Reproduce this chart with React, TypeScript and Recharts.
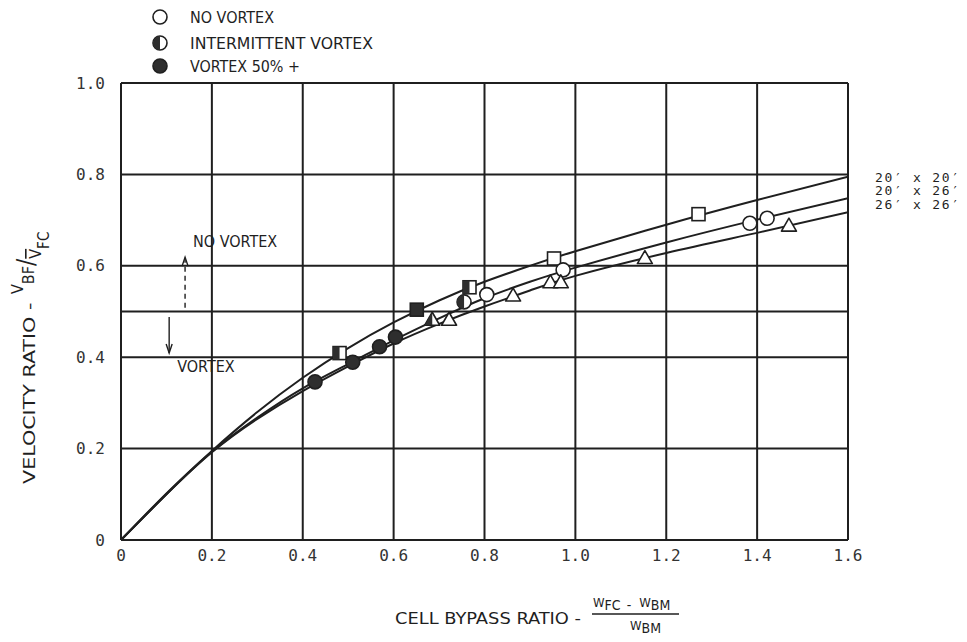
import React from "react";
import {
  CartesianGrid,
  ComposedChart,
  LabelList,
  Legend,
  Line,
  ReferenceLine,
  Scatter,
  XAxis,
  YAxis,
} from "recharts";

const FONT = "'DejaVu Sans Condensed', 'Liberation Sans Narrow', 'DejaVu Sans', sans-serif";
const MONO = "'DejaVu Sans Mono', 'Liberation Mono', monospace";
const INK = "#1f1f1f";
const DARK = "#2e2e2e";

const X_TICKS = [0, 0.2, 0.4, 0.6, 0.8, 1.0, 1.2, 1.4, 1.6];
const Y_TICKS = [0, 0.2, 0.4, 0.6, 0.8, 1.0];

// fitted curves, one per cell size
const CURVE_X = [0, 0.1, 0.2, 0.3, 0.4, 0.5, 0.6, 0.7, 0.8, 0.9, 1.0, 1.2, 1.4, 1.6];
const CURVE_20x20 = [0, 0.102, 0.195, 0.28, 0.355, 0.42, 0.476, 0.524, 0.565, 0.6, 0.632, 0.69, 0.744, 0.795];
const CURVE_20x26 = [0, 0.1, 0.193, 0.268, 0.332, 0.385, 0.437, 0.485, 0.529, 0.565, 0.596, 0.651, 0.701, 0.748];
const CURVE_26x26 = [0, 0.1, 0.192, 0.265, 0.326, 0.38, 0.43, 0.473, 0.511, 0.546, 0.578, 0.628, 0.672, 0.717];

// test points: square = 20'x20', circle = 20'x26', triangle = 26'x26'
const SQ_X = [0.481, 0.651, 0.767, 0.953, 1.271];
const SQ_Y = [0.409, 0.504, 0.553, 0.616, 0.713];
const SQ_STATE = ["half", "full", "half", "open", "open"];

const CI_X = [0.427, 0.51, 0.569, 0.604, 0.755, 0.805, 0.973, 1.384, 1.422];
const CI_Y = [0.346, 0.389, 0.423, 0.444, 0.521, 0.537, 0.591, 0.693, 0.704];
const CI_STATE = ["full", "full", "full", "full", "half", "open", "open", "open", "open"];

const TR_X = [0.685, 0.722, 0.863, 0.945, 0.968, 1.153, 1.47];
const TR_Y = [0.483, 0.483, 0.536, 0.565, 0.565, 0.618, 0.689];
const TR_STATE = ["half", "open", "open", "open", "open", "open", "open"];

const CURVE_LABELS = ["20′ x 20′", "20′ x 26′", "26′ x 26′"];
const LEGEND_LABELS = ["NO VORTEX", "INTERMITTENT VORTEX", "VORTEX 50% +"];
const LEGEND_STATES = ["open", "half", "full"];

// vortex boundary and its annotation arrows
const BOUNDARY_Y = 0.5;
const NO_VORTEX_ARROW = [{ x: 0.141, y: 0.508 }, { x: 0.141, y: 0.619 }];
const VORTEX_ARROW = [{ x: 0.106, y: 0.488 }, { x: 0.106, y: 0.409 }];

const curve = (ys: number[]) => CURVE_X.map((x, i) => ({ x, y: ys[i] }));
const points = (xs: number[], ys: number[], st: string[]) =>
  xs.map((x, i) => ({ x, y: ys[i], state: st[i] }));

const fmt = (v: number) => (v === 0 ? "0" : v.toFixed(1));

function Marker({ kind, state, cx, cy }: { kind: string; state: string; cx: number; cy: number }) {
  const body = state === "full" ? DARK : "#fff";
  const sw = 1.6;
  if (kind === "circle") {
    const r = 7;
    return (
      <g>
        <circle cx={cx} cy={cy} r={r} fill={body} stroke={INK} strokeWidth={sw} />
        {state === "half" && <path d={`M${cx},${cy - r} A${r},${r} 0 0 0 ${cx},${cy + r} Z`} fill={DARK} />}
      </g>
    );
  }
  if (kind === "square") {
    const h = 6.5;
    return (
      <g>
        <rect x={cx - h} y={cy - h} width={2 * h} height={2 * h} fill={body} stroke={INK} strokeWidth={sw} />
        {state === "half" && <rect x={cx - h} y={cy - h} width={h} height={2 * h} fill={DARK} />}
      </g>
    );
  }
  const w = 7.5;
  const t = cy - 7;
  const b = cy + 6;
  return (
    <g>
      <polygon points={`${cx},${t} ${cx - w},${b} ${cx + w},${b}`} fill={body} stroke={INK} strokeWidth={sw} strokeLinejoin="round" />
      {state === "half" && <polygon points={`${cx},${t} ${cx - w},${b} ${cx},${b}`} fill={DARK} />}
    </g>
  );
}

const endLabel = (text: string, dy: number) => (p: any) => {
  if (p.index !== undefined ? p.index !== CURVE_X.length - 1 : p.x < 840) return null;
  return (
    <text
      key={text}
      x={p.x + 27}
      y={p.y + dy}
      fontFamily={MONO}
      fontSize={13}
      fill={INK}
      textLength={84}
      lengthAdjust="spacing"
    >
      {text}
    </text>
  );
};

const arrowShape = (text: string, tx: number, ty: number, dashed: boolean) => (p: any) => {
  const { x1, y1, x2, y2 } = p;
  const dir = y2 < y1 ? -1 : 1;
  return (
    <g>
      <line x1={x1} y1={y1} x2={x2} y2={y2} stroke={INK} strokeWidth={1.4} strokeDasharray={dashed ? "5 4" : undefined} />
      <path d={`M${x2 - 3},${y2 - dir * 9} L${x2},${y2} L${x2 + 3},${y2 - dir * 9}`} fill="none" stroke={INK} strokeWidth={1.4} />
      <text x={x1 + tx} y={y1 + ty} fontFamily={FONT} fontSize={16} fill={INK}>
        {text}
      </text>
    </g>
  );
};

function XTitle() {
  return (
    <g fontFamily={FONT} fill={INK}>
      <text x={395} y={624} fontSize={16} textLength={186} lengthAdjust="spacingAndGlyphs">
        CELL BYPASS RATIO -
      </text>
      <text x={593} y={610} fontSize={14}>
        <tspan fontSize={13} dy={-3}>W</tspan>
        <tspan dy={3}>FC</tspan>
        <tspan dx={6}>-</tspan>
        <tspan dx={8} fontSize={13} dy={-3}>W</tspan>
        <tspan dy={3}>BM</tspan>
      </text>
      <line x1={592} x2={679} y1={614} y2={614} stroke={INK} strokeWidth={1.5} />
      <text x={630} y={633} fontSize={14}>
        <tspan fontSize={13} dy={-3}>W</tspan>
        <tspan dy={3}>BM</tspan>
      </text>
    </g>
  );
}

function YTitle() {
  return (
    <text transform="translate(35,484) rotate(-90)" fontFamily={FONT} fontSize={16} fill={INK}>
      <tspan textLength={180} lengthAdjust="spacingAndGlyphs">VELOCITY RATIO -</tspan>
      <tspan dx={10} dy={-12} fontSize={16}>V</tspan>
      <tspan dy={11} fontSize={16}>BF</tspan>
      <tspan fontSize={24}>/</tspan>
      <tspan dy={7} fontSize={16} textDecoration="overline">V</tspan>
      <tspan dy={8} fontSize={15}>FC</tspan>
    </text>
  );
}

function LegendBox() {
  const rows = [17, 43, 66];
  const widths = [84, 183, 110];
  return (
    <svg width={260} height={80} style={{ display: "block" }}>
      {LEGEND_LABELS.map((label, i) => (
        <g key={label}>
          <Marker kind="circle" state={LEGEND_STATES[i]} cx={10} cy={rows[i]} />
          <text
            x={40}
            y={rows[i] + 6}
            fontFamily={FONT}
            fontSize={15}
            fill={INK}
            textLength={widths[i]}
            lengthAdjust="spacingAndGlyphs"
          >
            {label}
          </text>
        </g>
      ))}
    </svg>
  );
}

export default function App() {
  const tick = { fill: "#333", fontSize: 16, fontFamily: MONO };
  return (
    <div style={{ position: "absolute", left: 0, top: 0, width: 967, height: 642, background: "#fff" }}>
      <ComposedChart width={967} height={642} margin={{ top: 83, right: 119, bottom: 62, left: 0 }}>
        <CartesianGrid stroke={INK} strokeWidth={2} />
        <XAxis
          type="number"
          dataKey="x"
          domain={[0, 1.6]}
          ticks={X_TICKS}
          tickFormatter={fmt}
          tick={tick}
          tickLine={false}
          axisLine={false}
          tickSize={0}
          tickMargin={10}
          height={40}
          allowDataOverflow
          label={<XTitle />}
        />
        <YAxis
          type="number"
          domain={[0, 1]}
          ticks={Y_TICKS}
          tickFormatter={fmt}
          tick={tick}
          tickLine={false}
          axisLine={false}
          tickSize={0}
          tickMargin={16}
          width={121}
          allowDataOverflow
          label={<YTitle />}
        />
        <ReferenceLine y={BOUNDARY_Y} stroke={INK} strokeWidth={2} />
        <ReferenceLine segment={NO_VORTEX_ARROW} shape={arrowShape("NO VORTEX", 8, -61, true)} />
        <ReferenceLine segment={VORTEX_ARROW} shape={arrowShape("VORTEX", 8, 55, false)} />
        <Line data={curve(CURVE_20x20)} dataKey="y" type="natural" stroke={INK} strokeWidth={2} dot={false} activeDot={false} isAnimationActive={false}>
          <LabelList dataKey="y" content={endLabel(CURVE_LABELS[0], 5)} />
        </Line>
        <Line data={curve(CURVE_20x26)} dataKey="y" type="natural" stroke={INK} strokeWidth={2} dot={false} activeDot={false} isAnimationActive={false}>
          <LabelList dataKey="y" content={endLabel(CURVE_LABELS[1], -3)} />
        </Line>
        <Line data={curve(CURVE_26x26)} dataKey="y" type="natural" stroke={INK} strokeWidth={2} dot={false} activeDot={false} isAnimationActive={false}>
          <LabelList dataKey="y" content={endLabel(CURVE_LABELS[2], -3)} />
        </Line>
        <Scatter
          data={points(SQ_X, SQ_Y, SQ_STATE)}
          dataKey="y"
          isAnimationActive={false}
          shape={(p: any) => <Marker kind="square" state={p.payload.state} cx={p.cx} cy={p.cy} />}
        />
        <Scatter
          data={points(CI_X, CI_Y, CI_STATE)}
          dataKey="y"
          isAnimationActive={false}
          shape={(p: any) => <Marker kind="circle" state={p.payload.state} cx={p.cx} cy={p.cy} />}
        />
        <Scatter
          data={points(TR_X, TR_Y, TR_STATE)}
          dataKey="y"
          isAnimationActive={false}
          shape={(p: any) => <Marker kind="triangle" state={p.payload.state} cx={p.cx} cy={p.cy} />}
        />
        <Legend
          layout="vertical"
          align="center"
          verticalAlign="middle"
          wrapperStyle={{ top: 0, left: 150, width: 260, height: 80 }}
          content={() => <LegendBox />}
        />
      </ComposedChart>
    </div>
  );
}
